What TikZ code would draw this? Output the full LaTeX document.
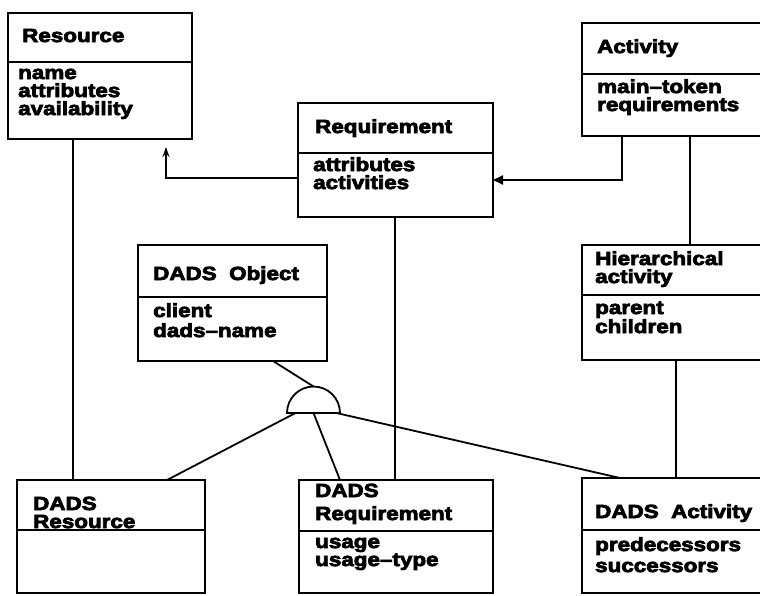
\documentclass[tikz,border=0pt]{standalone}
\usepackage{fontspec}
\newfontfamily\dfont[FakeStretch=1.18,BoldFeatures={FakeStretch=1.18,FakeBold=4}]{Liberation Sans}
\usetikzlibrary{arrows.meta}
\tikzset{
  cls/.style={draw, rectangle, line width=2.6pt, inner sep=0pt, outer sep=0pt, anchor=north west},
  divl/.style={line width=2.2pt},
  lbl/.style={anchor=base west, inner sep=0pt, text height=13pt, text depth=3.4pt,
    font=\dfont\bfseries\fontsize{19}{19}\selectfont},
  conn/.style={line width=1.8pt},
  thinl/.style={line width=1.4pt},
}
\newcommand\umlcls[6]{%
  \node[cls, minimum width={#4pt-#2pt}, minimum height={#6pt-#3pt}] (#1) at (#2,#3) {};
  \draw[divl] (#2,#5) -- (#4,#5);}
\begin{document}
\begin{tikzpicture}[x=1pt,y=-1pt]
\useasboundingbox (0,0) rectangle (760,595);
\clip (0,0) rectangle (760,595);
% boxes
\umlcls{res}{8}{13}{192}{62}{139}
\umlcls{req}{298}{103}{493}{153}{217}
\umlcls{act}{582}{23}{772}{74}{136}
\umlcls{obj}{138}{245}{327}{297}{361}
\umlcls{hact}{582}{245}{772}{295}{360}
\umlcls{dres}{17}{480}{205}{530}{593}
\umlcls{dreq}{299}{480}{493}{531}{593}
\umlcls{dact}{582}{478}{772}{530}{593}
% texts
\node[lbl] (res-t) at (22,42) {Resource};
\node[lbl] (res-1) at (18,79) {name};
\node[lbl] (res-2) at (18,97) {attributes};
\node[lbl] (res-3) at (18,115) {availability};
\node[lbl] (req-t) at (315,133) {Requirement};
\node[lbl] (req-1) at (313,171) {attributes};
\node[lbl] (req-2) at (313,189) {activities};
\node[lbl] (act-t) at (597,53) {Activity};
\node[lbl] (act-1) at (597,93) {main–token};
\node[lbl] (act-2) at (597,111) {requirements};
\node[lbl] (obj-t) at (153,280) {DADS\ \ Object};
\node[lbl] (obj-1) at (153,317) {client};
\node[lbl] (obj-2) at (153,337) {dads–name};
\node[lbl] (hact-t) at (595,265) {Hierarchical};
\node[lbl] (hact-t2) at (595,283) {activity};
\node[lbl] (hact-1) at (595,314) {parent};
\node[lbl] (hact-2) at (595,333) {children};
\node[lbl] (dres-t) at (33,510) {DADS};
\node[lbl] (dres-t2) at (33,528) {Resource};
\node[lbl] (dreq-t) at (315,497) {DADS};
\node[lbl] (dreq-t2) at (315,520) {Requirement};
\node[lbl] (dreq-1) at (315,548) {usage};
\node[lbl] (dreq-2) at (315,566) {usage–type};
\node[lbl] (dact-t) at (595,518) {DADS\ \ Activity};
\node[lbl] (dact-1) at (595,551) {predecessors};
\node[lbl] (dact-2) at (595,572) {successors};
% generalisation semicircle
\coordinate (gen) at (313.5,413);
\draw[conn, fill=white] (287,413) arc[start angle=180, end angle=360, radius=26.5] -- cycle;
% connectors
\draw[thinl] (res.south -| 73,0) -- (dres.north -| 73,0);
\draw[conn, -{Stealth[length=10pt,width=7pt]}, shorten >=8pt]
  (req.west |- 0,178) -| (res.south -| 166,0);
\draw[conn, -{Triangle[length=10pt,width=9pt]}]
  (act.south -| 622,0) |- (req.east |- 0,180);
\draw[thinl] (act.south -| 690,0) -- (hact.north -| 690,0);
\draw[thinl] (hact.south -| 676,0) -- (dact.north -| 676,0);
\draw[thinl] (req.south -| 395,0) -- (dreq.north -| 395,0);
\draw[conn] (obj.south -| 273,0) -- ([yshift=26.5pt]gen);
\draw[conn] ([xshift=-18pt]gen) -- (dres.north -| 167,0);
\draw[conn] (gen) -- (dreq.north -| 340,0);
\draw[conn] ([xshift=23pt]gen) -- (dact.north -| 620,0);
\end{tikzpicture}
\end{document}
